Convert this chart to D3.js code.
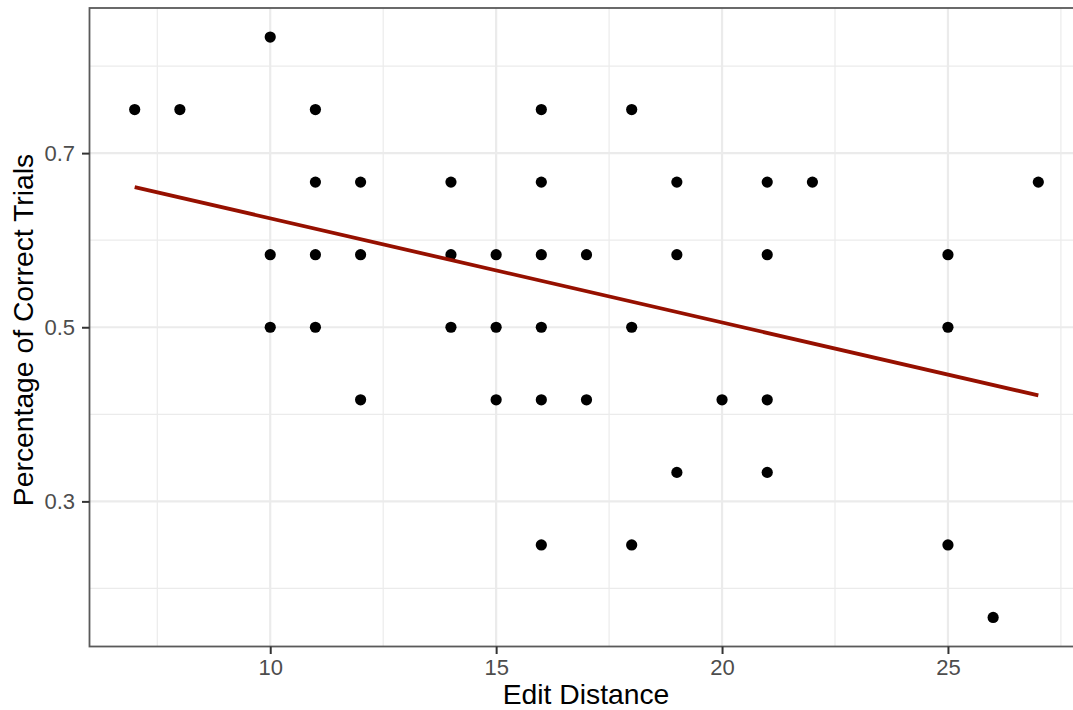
<!DOCTYPE html>
<html>
<head>
<meta charset="utf-8">
<script src="https://cdn.jsdelivr.net/npm/d3@7"></script>
<style>
  html, body { margin: 0; padding: 0; background: #fff; }
  svg { display: block; font-family: "Liberation Sans", Arial, sans-serif; }
</style>
</head>
<body>
<svg id="chart" width="1073" height="710"></svg>
<script>
// Data: edit distance (x) and percentage of correct trials (y)
const editDistance = [7, 8, 10, 10, 10, 11, 11, 11, 11, 12, 12, 12, 14, 14, 14, 15, 15, 15,
  16, 16, 16, 16, 16, 16, 17, 17, 18, 18, 18, 19, 19, 19, 20, 21, 21, 21, 21, 22, 25, 25, 25, 26, 27];
const pctCorrect = [0.75, 0.75, 0.8333, 0.5833, 0.5, 0.75, 0.6667, 0.5833, 0.5, 0.6667, 0.5833, 0.4167,
  0.6667, 0.5833, 0.5, 0.5833, 0.5, 0.4167,
  0.75, 0.6667, 0.5833, 0.5, 0.4167, 0.25, 0.5833, 0.4167, 0.75, 0.5, 0.25,
  0.6667, 0.5833, 0.3333, 0.4167, 0.6667, 0.5833, 0.4167, 0.3333, 0.6667,
  0.5833, 0.5, 0.25, 0.1667, 0.6667];
// Fitted linear trend
const fitX = [7, 27];
const fitY = [0.661, 0.4217];
// Ticks
const xTicks = [10, 15, 20, 25];
const xMinor = [7.5, 12.5, 17.5, 22.5, 27.5];
const yTicks = [0.3, 0.5, 0.7];
const yMinor = [0.2, 0.4, 0.6, 0.8];

const svg = d3.select("#chart");
const x = d3.scaleLinear().domain([6, 28]).range([89.5, 1083.5]);
const y = d3.scaleLinear().domain([0.13333, 0.86667]).range([646.5, 8]);

const pLeft = x.range()[0], pRight = x.range()[1];
const pTop = y.range()[1], pBottom = y.range()[0];

// Panel background
svg.append("rect").attr("x", pLeft).attr("y", pTop)
  .attr("width", pRight - pLeft).attr("height", pBottom - pTop).attr("fill", "#fff");

// Minor grid
svg.append("g").selectAll("line").data(xMinor).join("line")
  .attr("x1", d => x(d)).attr("x2", d => x(d)).attr("y1", pTop).attr("y2", pBottom)
  .attr("stroke", "#EBEBEB").attr("stroke-width", 1.2);
svg.append("g").selectAll("line").data(yMinor).join("line")
  .attr("y1", d => y(d)).attr("y2", d => y(d)).attr("x1", pLeft).attr("x2", pRight)
  .attr("stroke", "#EBEBEB").attr("stroke-width", 1.2);
// Major grid
svg.append("g").selectAll("line").data(xTicks).join("line")
  .attr("x1", d => x(d)).attr("x2", d => x(d)).attr("y1", pTop).attr("y2", pBottom)
  .attr("stroke", "#EBEBEB").attr("stroke-width", 2.2);
svg.append("g").selectAll("line").data(yTicks).join("line")
  .attr("y1", d => y(d)).attr("y2", d => y(d)).attr("x1", pLeft).attr("x2", pRight)
  .attr("stroke", "#EBEBEB").attr("stroke-width", 2.2);

// Points
svg.append("g").selectAll("circle").data(editDistance.map((d, i) => [d, pctCorrect[i]])).join("circle")
  .attr("cx", d => x(d[0])).attr("cy", d => y(d[1])).attr("r", 5.6).attr("fill", "#000");

// Trend line
svg.append("path")
  .datum(fitX.map((d, i) => [d, fitY[i]]))
  .attr("d", d3.line().x(d => x(d[0])).y(d => y(d[1])))
  .attr("fill", "none").attr("stroke", "#961000").attr("stroke-width", 3.8);

// Panel border
svg.append("rect").attr("x", pLeft).attr("y", pTop)
  .attr("width", pRight - pLeft).attr("height", pBottom - pTop)
  .attr("fill", "none").attr("stroke", "#5a5a5a").attr("stroke-width", 1.8);

// Axes
const xAxis = d3.axisBottom(x).tickValues(xTicks).tickSize(7.5).tickPadding(5.5).tickFormat(d3.format("d"));
const yAxis = d3.axisLeft(y).tickValues(yTicks).tickSize(7.5).tickPadding(7).tickFormat(d3.format(".1f"));

const gx = svg.append("g").attr("transform", `translate(0,${pBottom})`).call(xAxis);
const gy = svg.append("g").attr("transform", `translate(${pLeft},0)`).call(yAxis);
[gx, gy].forEach(g => {
  g.select(".domain").remove();
  g.selectAll(".tick line").attr("stroke", "#333").attr("stroke-width", 2);
  g.selectAll(".tick text").attr("fill", "#4D4D4D").style("font-size", "22px")
    .style("font-family", "'Liberation Sans', Arial, sans-serif");
});

// Axis titles
svg.append("text").attr("x", 586).attr("y", 704)
  .attr("text-anchor", "middle").style("font-size", "28.3px").attr("fill", "#000")
  .text("Edit Distance");
svg.append("text").attr("transform", `translate(33,330) rotate(-90)`)
  .attr("text-anchor", "middle").style("font-size", "28.3px").attr("fill", "#000")
  .text("Percentage of Correct Trials");
</script>
</body>
</html>
